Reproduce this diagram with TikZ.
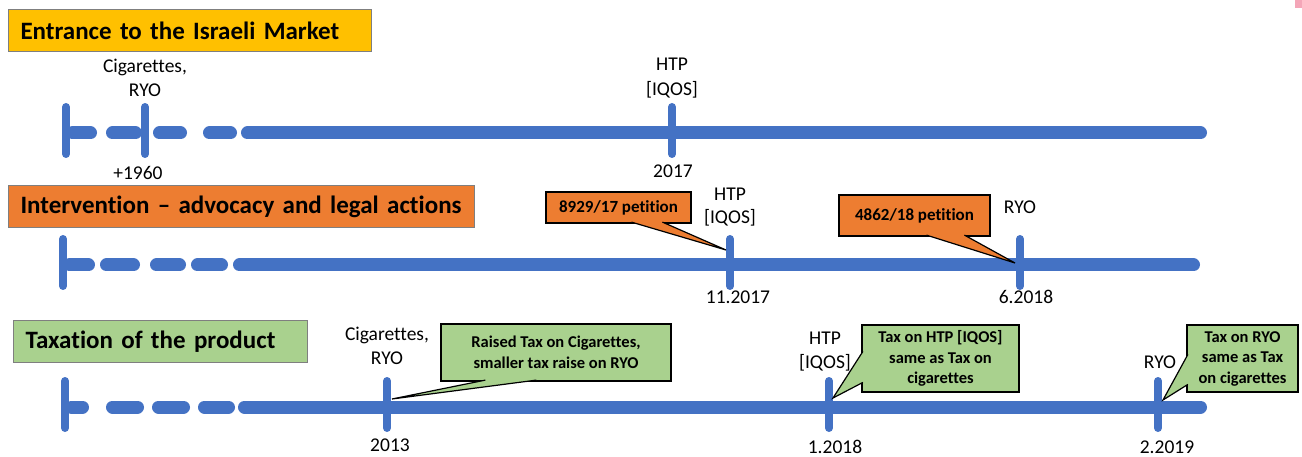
\documentclass[tikz,border=0pt]{standalone}
\usepackage{fontspec}
\setmainfont{Carlito}[Ligatures=NoCommon]
\definecolor{lineBlue}{HTML}{4472C4}
\definecolor{entranceYellow}{HTML}{FFC000}
\definecolor{interventionOrange}{HTML}{ED7D31}
\definecolor{taxGreen}{HTML}{A9D18E}
\definecolor{titleBorder}{HTML}{7F7F7F}
\definecolor{cornerPink}{HTML}{F4A6B8}
\tikzstyle{timeLineStyle} = [color=lineBlue, line width=13pt, line cap=round]
\tikzstyle{tickStyle} = [color=lineBlue, line width=8pt, line cap=round]
\tikzstyle{titleBox} = [draw=titleBorder, line width=1pt, anchor=north west, inner xsep=12pt, inner ysep=0pt, minimum height=42pt, align=left, font=\fontsize{25}{30}\selectfont\bfseries]
\tikzstyle{calloutBox} = [draw=black, line width=1.2pt, inner sep=0pt, align=center]
\tikzstyle{petitionText} = [font=\fontsize{17}{20}\selectfont\bfseries]
\tikzstyle{taxText} = [font=\fontsize{16.5}{20.5}\selectfont\bfseries]
\tikzstyle{labelText} = [anchor=base, inner sep=0pt, font=\fontsize{19.5}{24}\selectfont]
\tikzstyle{pointerLine} = [draw=black, line width=1.2pt, line join=miter]
\newcommand{\timeLine}[3]{
  \foreach \segStart/\segEnd in {#3} {
    \draw [timeLineStyle] (\segStart + 6.5, #1) -- (\segEnd - 6.5, #1);
  }
  \draw [tickStyle] (#2, #1 - 26) -- (#2, #1 + 21);
}
\newcommand{\timeTick}[3]{\coordinate (#1) at (#2,#3); \draw [tickStyle] (#2, #3 - 26) -- (#2, #3 + 21);}
\newcommand{\calloutPointer}[4]{
  \fill [#1] #2 -- #4 -- #3 -- cycle;
  \draw [pointerLine] #2 -- #4 -- #3;
}

\begin{document}
\begin{tikzpicture}[x=1pt, y=-1pt]
  \useasboundingbox (0,0) rectangle (1302,457);
  \fill [cornerPink] (1295,0) rectangle (1302,8);

  \node [titleBox, fill=entranceYellow, text width=339pt] (entranceTitle) at (8,9) {Entrance to the Israeli Market};
  \node [titleBox, fill=interventionOrange, text width=442pt] (interventionTitle) at (8,185) {Intervention -- advocacy and legal actions};
  \node [titleBox, fill=taxGreen, text width=270pt] (taxTitle) at (13,320) {Taxation of the product};

  \timeLine{133}{66}{66/97, 106/142, 153/187, 203/237, 241/1207}
  \timeLine{265}{63}{63/95, 100/140, 150/186, 191/228, 233/1200}
  \timeLine{407}{65}{65/89, 106/144, 152/190, 198/235, 238/1207}

  \timeTick{cigTickA}{145}{133}
  \timeTick{htpTickA}{672}{133}
  \timeTick{htpTickB}{730}{265}
  \timeTick{ryoTickB}{1020}{265}
  \timeTick{cigTickC}{387}{407}
  \timeTick{htpTickC}{829}{407}
  \timeTick{ryoTickC}{1158}{407}

  \node [labelText] (cigLabelA) at (145,73) {Cigarettes,};
  \node [labelText] (ryoLabelA) at (145,97) {RYO};
  \node [labelText] (dateLabelA) at (138,180) {+1960};
  \node [labelText] (htpLabelA) at (672,71) {HTP};
  \node [labelText] (iqosLabelA) at (672,96) {[IQOS]};
  \node [labelText] (dateLabelB) at (673,178) {2017};

  \node [labelText] (htpLabelB) at (730,201) {HTP};
  \node [labelText] (iqosLabelB) at (730,224) {[IQOS]};
  \node [labelText] (dateLabelC) at (738,304) {11.2017};
  \node [labelText] (ryoLabelB) at (1020,214) {RYO};
  \node [labelText] (dateLabelD) at (1026,304) {6.2018};

  \node [labelText] (cigLabelC) at (387,341) {Cigarettes,};
  \node [labelText] (ryoLabelC) at (387,364) {RYO};
  \node [labelText] (dateLabelE) at (390,451) {2013};
  \node [labelText] (htpLabelC) at (825,344) {HTP};
  \node [labelText] (iqosLabelC) at (825,368) {[IQOS]};
  \node [labelText] (dateLabelF) at (835,453) {1.2018};
  \node [labelText] (ryoLabelD) at (1160,368) {RYO};
  \node [labelText] (dateLabelG) at (1167,453) {2.2019};

  \node [calloutBox, petitionText, fill=interventionOrange, minimum width=145pt, minimum height=31pt] (petitionBoxA) at (618.5,207.5) {8929/17 petition};
  \coordinate (petitionTipA) at (726,250);
  \calloutPointer{interventionOrange}{([xshift=86pt,yshift=1.5pt]petitionBoxA.south west)}{([xshift=117pt,yshift=1.5pt]petitionBoxA.south west)}{(petitionTipA)}

  \node [calloutBox, petitionText, fill=interventionOrange, minimum width=151pt, minimum height=41pt] (petitionBoxB) at (914.5,215.5) {4862/18 petition};
  \coordinate (petitionTipB) at (1015,263);
  \calloutPointer{interventionOrange}{([xshift=88pt,yshift=1.5pt]petitionBoxB.south west)}{([xshift=126pt,yshift=1.5pt]petitionBoxB.south west)}{(petitionTipB)}

  \node [calloutBox, taxText, fill=taxGreen, minimum width=230pt, minimum height=57pt] (taxBoxA) at (556,352.5) {Raised Tax on Cigarettes,\\smaller tax raise on RYO};
  \coordinate (taxTipA) at (392,399);
  \calloutPointer{taxGreen}{([xshift=45pt,yshift=1.5pt]taxBoxA.south west)}{([xshift=96pt,yshift=1.5pt]taxBoxA.south west)}{(taxTipA)}

  \node [calloutBox, taxText, fill=taxGreen, minimum width=157pt, minimum height=67pt] (taxBoxB) at (940.5,358.5) {Tax on HTP [IQOS]\\same as Tax on\\cigarettes};
  \coordinate (taxTipB) at (833,398);
  \calloutPointer{taxGreen}{([xshift=1.5pt,yshift=-27pt]taxBoxB.north west)}{([xshift=1.5pt,yshift=-58pt]taxBoxB.north west)}{(taxTipB)}

  \node [calloutBox, taxText, fill=taxGreen, minimum width=111pt, minimum height=67pt] (taxBoxC) at (1242.5,358.5) {Tax on RYO\\same as Tax\\on cigarettes};
  \coordinate (taxTipC) at (1163,400);
  \calloutPointer{taxGreen}{([xshift=1.5pt,yshift=-30pt]taxBoxC.north west)}{([xshift=1.5pt,yshift=-60pt]taxBoxC.north west)}{(taxTipC)}
\end{tikzpicture}
\end{document}
